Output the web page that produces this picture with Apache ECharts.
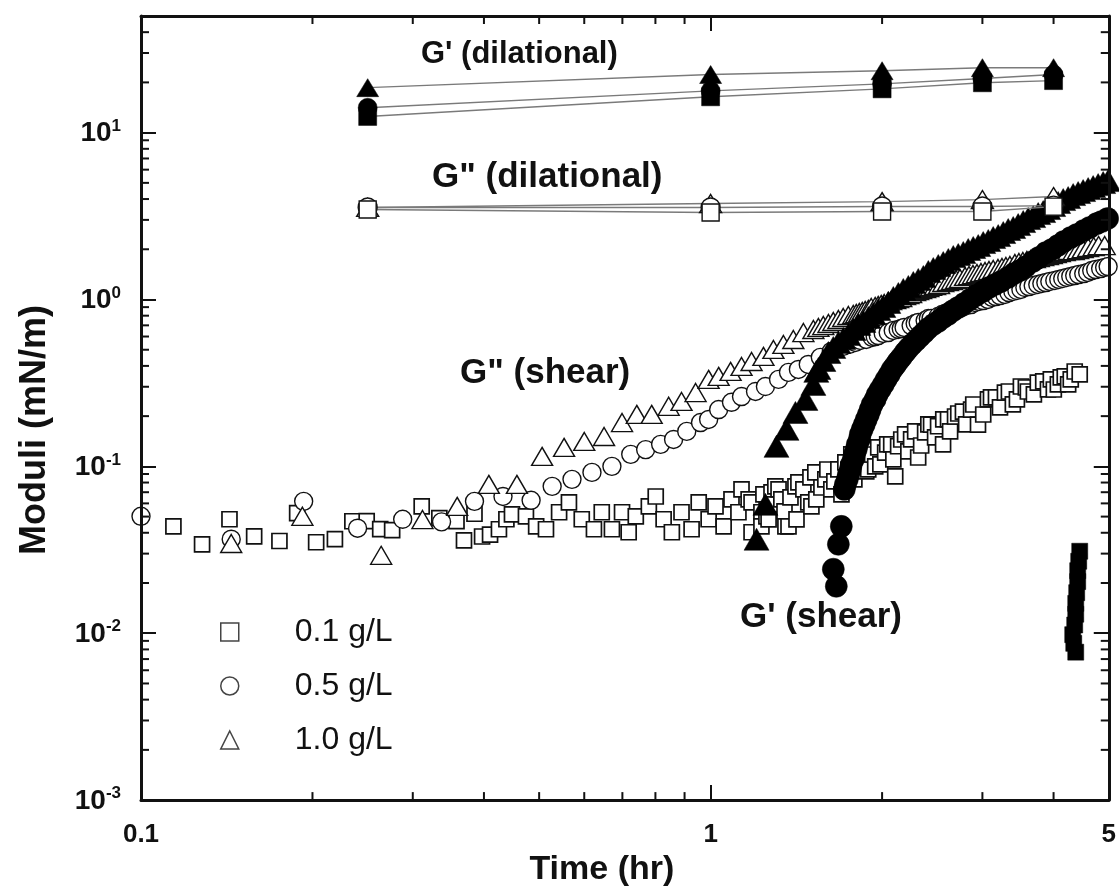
<!DOCTYPE html>
<html><head><meta charset="utf-8">
<script src="https://cdn.jsdelivr.net/npm/echarts@6/dist/echarts.min.js"></script>
<style>html,body{margin:0;padding:0;background:#fff}#c{width:1119px;height:892px}</style>
</head><body><div id="c"></div>
<script>
// ---------- tick labels / categories ----------
const xTickLabels = ['0.1', '1', '5'];
const yTickExponents = [-3, -2, -1, 0, 1];
const concentrations = ['0.1 g/L', '0.5 g/L', '1.0 g/L'];

// ---------- dilational data (time in hr) ----------
const dilTimes = [0.25, 1, 2, 3, 4];
const gpDilSquare   = [12.5, 16.4, 18.3, 19.9, 20.5];
const gpDilCircle   = [14.1, 17.8, 19.6, 21.1, 22.3];
const gpDilTriangle = [18.6, 22.3, 23.5, 24.5, 24.5];
const gppDilSquare   = [3.46, 3.32, 3.37, 3.37, 3.60];
const gppDilCircle   = [3.56, 3.56, 3.61, 3.61, 3.65];
const gppDilTriangle = [3.56, 3.76, 3.86, 3.97, 4.14];

// ---------- shear data [time (hr), modulus (mN/m)] ----------
const gppShearSquare = [
 [0.114,0.0437],[0.128,0.0341],[0.143,0.0482],[0.158,0.0381],[0.175,0.0357],[0.188,0.0525],[0.203,0.0351],[0.219,0.0366],
 [0.235,0.0469],[0.249,0.047],[0.263,0.0421],[0.276,0.0415],[0.311,0.0576],[0.334,0.049],[0.358,0.047],[0.369,0.036],
 [0.385,0.052],[0.397,0.038],[0.41,0.039],[0.425,0.042],[0.438,0.0482],[0.448,0.0516],[0.474,0.0502],[0.494,0.0437],
 [0.514,0.042],[0.542,0.0531],[0.564,0.0608],[0.594,0.0482],[0.624,0.042],[0.644,0.0531],[0.671,0.042],[0.699,0.0531],
 [0.718,0.0403],[0.739,0.0502],[0.779,0.0576],[0.801,0.066],[0.827,0.0482],[0.855,0.0403],[0.889,0.0531],[0.926,0.042],
 [0.953,0.0608],[0.992,0.0482],[1.02,0.0576],[1.054,0.0437],[1.088,0.0634],[1.119,0.0531],[1.133,0.0728],[1.166,0.0634],
 [1.18,0.0608],[1.18,0.0403],[1.228,0.0531],[1.228,0.0437],[1.253,0.0502],[1.279,0.0698],[1.299,0.0759],[1.331,0.0634],
 [1.353,0.0437],[1.37,0.0437],[1.409,0.0759],[1.426,0.0801],[1.484,0.0608],[1.503,0.0576],[1.527,0.092],[1.59,0.0836],
 [1.629,0.0728],[1.676,0.0959],[1.724,0.1057],[1.766,0.118],[1.816,0.110],[1.86,0.1265],[1.891,0.0959],[1.945,0.1],
 [1.969,0.130],[2.025,0.121],[2.075,0.1355],[2.109,0.0871],[2.134,0.132],[2.195,0.1556],[2.249,0.145],[2.314,0.113],
 [2.38,0.16],[2.438,0.178],[2.508,0.174],[2.559,0.1355],[2.611,0.191],[2.686,0.199],[2.773,0.213],[2.866,0.219],
 [2.947,0.178],[3.068,0.252],[3.169,0.259],[3.286,0.277],[3.393,0.235],[3.505,0.301],[3.605,0.281],[3.753,0.318],
 [3.91,0.289],[3.956,0.332],[4.07,0.31],[4.185,0.346],[4.288,0.332],[4.446,0.356],
 [1.238,0.0679],[1.264,0.0481],[1.289,0.0592],[1.316,0.0727],[1.348,0.0537],[1.381,0.0652],[1.415,0.0481],[1.455,0.0727],
 [1.497,0.0858],[1.533,0.0634],[1.565,0.0747],[1.603,0.0958],[1.649,0.0812],[1.697,0.0679],[1.745,0.0958],[1.788,0.0835],
 [1.839,0.1131],[1.876,0.0932],[1.921,0.1178],[1.986,0.1027],[2.042,0.1353],[2.093,0.110],[2.161,0.1449],[2.224,0.1229],
 [2.286,0.1619],[2.342,0.1334],[2.411,0.1783],[2.478,0.149],[2.561,0.191],[2.633,0.1619],[2.721,0.2074],[2.809,0.1783],
 [2.891,0.2349],[3.01,0.2046],[3.106,0.2588],[3.221,0.2254],[3.339,0.281],[3.449,0.2517],[3.576,0.297],[3.694,0.2697],
 [3.836,0.3227],[4.004,0.2889],[4.118,0.341],[4.243,0.3096],[4.357,0.3703]
];
const gppShearCircle = [
 [0.1,0.0502],[0.144,0.0366],[0.193,0.0617],[0.24,0.0426],[0.288,0.0482],[0.337,0.0465],[0.385,0.0617],[0.432,0.066],
 [0.484,0.0626],[0.527,0.0759],[0.571,0.0836],[0.619,0.092],[0.671,0.1],[0.724,0.118],[0.769,0.126],[0.817,0.1355],
 [0.861,0.145],[0.908,0.162],[0.96,0.183],[0.992,0.191],[1.033,0.219],[1.088,0.242],[1.133,0.262],[1.199,0.281],
 [1.248,0.301],[1.316,0.332],[1.37,0.366],[1.426,0.381],[1.484,0.408],[1.558,0.45],[1.629,0.489],[1.709,0.524],
 [1.752,0.538],[1.795,0.553],[1.831,0.568],[1.876,0.576],[1.921,0.592],[1.969,0.608],[2.009,0.626],[2.05,0.634],
 [2.092,0.652],[2.134,0.661],[2.186,0.68],[2.249,0.698],[2.314,0.728],[2.38,0.748],[2.438,0.77],[2.508,0.791],
 [2.58,0.825],[2.665,0.859],[2.763,0.896],[2.865,0.933],[2.959,0.973],[3.068,1.0],[3.169,1.042],[3.286,1.072],
 [3.393,1.117],[3.505,1.148],[3.62,1.196],[3.753,1.23],[3.877,1.264],[4.02,1.30],[4.151,1.336],[4.288,1.374],
 [4.428,1.411],[4.592,1.452],[4.742,1.512],[4.918,1.556],
 [1.945,0.600],[2.161,0.670],[2.286,0.718],[2.411,0.769],[2.549,0.813],[2.622,0.848],[2.721,0.883],[2.819,0.921],
 [2.911,0.960],[3.01,0.986],[3.119,1.028],[3.221,1.056],[3.339,1.101],[3.449,1.132],[3.562,1.180],[3.684,1.213],
 [3.815,1.247],[3.94,1.282],[4.085,1.318],[4.219,1.355],[4.357,1.392],[4.519,1.431],[4.667,1.491],[4.838,1.533],[4.987,1.576]
];
const gppShearTriangle = [
 [0.144,0.0345],[0.192,0.0502],[0.264,0.0293],[0.312,0.048],[0.359,0.0576],[0.408,0.078],[0.457,0.078],[0.506,0.1148],
 [0.553,0.13],[0.60,0.141],[0.65,0.151],[0.699,0.183],[0.742,0.205],[0.788,0.205],[0.844,0.229],[0.889,0.245],
 [0.941,0.277],[0.992,0.332],[1.033,0.346],[1.084,0.371],[1.133,0.397],[1.18,0.425],[1.238,0.456],[1.289,0.502],
 [1.342,0.538],[1.397,0.576],[1.455,0.634],[1.515,0.661],[1.577,0.698],[1.642,0.738],[1.709,0.78],[1.78,0.813],
 [1.824,0.836],[1.868,0.859],[1.914,0.896],[1.969,0.92],[2.017,0.946],[2.075,0.986],[2.134,1.014],[2.195,1.057],
 [2.249,1.086],[2.314,1.132],[2.38,1.164],[2.438,1.197],[2.518,1.23],[2.611,1.282],[2.697,1.318],[2.797,1.374],
 [2.888,1.411],[2.983,1.452],[3.081,1.492],[3.195,1.535],[3.299,1.576],[3.421,1.644],[3.533,1.689],[3.649,1.738],
 [3.769,1.784],[3.91,1.834],[4.036,1.886],[4.185,1.937],[4.34,1.965],[4.5,2.018],[4.704,2.077],[4.918,2.105],
 [1.546,0.680],[1.61,0.718],[1.676,0.759],[1.745,0.802],[1.802,0.824],[1.846,0.848],[1.892,0.871],[1.945,0.908],
 [1.993,0.933],[2.051,0.973],[2.109,1.0],[2.161,1.028],[2.224,1.071],[2.286,1.117],[2.342,1.148],[2.411,1.180],
 [2.478,1.213],[2.561,1.264],[2.653,1.300],[2.74,1.336],[2.842,1.392],[2.935,1.431],[3.032,1.471],[3.134,1.512],
 [3.247,1.554],[3.353,1.598],[3.477,1.665],[3.591,1.712],[3.709,1.760],[3.836,1.809],[3.972,1.860],[4.102,1.912],
 [4.253,1.966],[4.418,1.993],[4.6,2.049],[4.799,2.105]
];
const gpShearSquare = [
 [4.446,0.031],[4.428,0.027],[4.41,0.0237],[4.41,0.0204],[4.392,0.0175],[4.375,0.0151],[4.375,0.0130],
 [4.357,0.0112],[4.322,0.0098],[4.34,0.0087],[4.375,0.0077]
];
const gpShearCircle = [
 [1.696,0.0437],[1.676,0.0341],[1.642,0.0242],[1.662,0.0191],
 [1.717,0.0728],[1.738,0.0836],[1.759,0.0959],[1.78,0.110],[1.802,0.1265],[1.824,0.145],[1.846,0.1667],[1.876,0.191],
 [1.906,0.219],[1.945,0.252],[1.985,0.289],[2.033,0.332],[2.083,0.381],[2.134,0.426],[2.195,0.482],[2.258,0.538],
 [2.332,0.60],[2.409,0.67],[2.508,0.738],[2.611,0.813],[2.719,0.895],[2.853,1.0],[3.007,1.117],[3.156,1.23],
 [3.326,1.355],[3.491,1.493],[3.679,1.691],[3.877,1.91],[4.07,2.105],[4.288,2.35],[4.519,2.59],[4.762,2.85],[4.977,3.055],
 [1.724,0.0779],[1.745,0.0894],[1.766,0.1027],[1.788,0.1178],[1.809,0.1353],[1.831,0.1553],[1.861,0.1783],[1.892,0.2046],
 [1.921,0.2349],[1.961,0.2697],[2.01,0.3096],[2.059,0.3553],[2.109,0.4023],[2.161,0.4492],[2.224,0.5087],[2.295,0.568],
 [2.371,0.634],[2.46,0.708],[2.561,0.780],[2.667,0.859],[2.786,0.946],[2.924,1.056],[3.081,1.180],[3.234,1.282],
 [3.408,1.431],[3.576,1.576],[3.769,1.785],[3.972,1.993],[4.168,2.225],[4.393,2.45],[4.629,2.70],[4.858,2.931]
];
const gpShearTriangle = [
 [1.204,0.0366],[1.248,0.0592],[1.305,0.1318],[1.359,0.1667],[1.409,0.2104],[1.467,0.252],[1.515,0.31],[1.533,0.371],
 [1.546,0.386],[1.5775,0.431],[1.61,0.481],[1.642,0.516],[1.676,0.553],[1.71,0.584],[1.745,0.617],[1.781,0.661],
 [1.817,0.708],[1.854,0.738],[1.892,0.780],[1.93,0.824],[1.97,0.871],[2.01,0.908],[2.051,0.960],[2.093,1.028],
 [2.136,1.086],[2.179,1.148],[2.224,1.197],[2.269,1.264],[2.315,1.318],[2.363,1.373],[2.411,1.471],[2.46,1.533],
 [2.51,1.598],[2.561,1.665],[2.614,1.736],[2.667,1.809],[2.721,1.860],[2.777,1.912],[2.833,1.993],[2.891,2.049],
 [2.95,2.105],[3.01,2.194],[3.072,2.256],[3.134,2.351],[3.198,2.416],[3.264,2.519],[3.33,2.626],[3.398,2.700],
 [3.467,2.812],[3.538,2.931],[3.61,3.055],[3.684,3.140],[3.759,3.273],[3.836,3.365],[3.914,3.507],[3.994,3.656],
 [4.075,3.811],[4.159,3.971],[4.243,4.082],[4.33,4.254],[4.418,4.373],[4.508,4.496],[4.6,4.621],[4.694,4.750],
 [4.79,4.883],[4.888,5.020],[4.987,5.160]
];

// ---------- layout / style ----------
const FONT = '"Liberation Sans", Arial, Helvetica, sans-serif';
const X_MIN = 0.1, X_MAX = 5, Y_MIN = 0.001, Y_MAX = 50;
const INK = '#111';

function minorValues(lo, hi) {
  const out = [];
  for (let e = Math.floor(Math.log10(lo)); e <= Math.ceil(Math.log10(hi)); e++) {
    for (let m = 2; m <= 9; m++) {
      const v = m * Math.pow(10, e);
      if (v > lo * 1.0001 && v < hi * 0.9999) out.push(v);
    }
  }
  return out;
}
const byTime = d => d.slice().sort((a, b) => a[0] - b[0]);
function hollow(name, symbol, size, data, z, bw) {
  return { type: 'scatter', name, symbol, symbolSize: size, data: byTime(data), z,
    itemStyle: { color: '#fff', borderColor: INK, borderWidth: bw || 1.4, opacity: 1 } };
}
function filled(name, symbol, size, data, z) {
  return { type: 'scatter', name, symbol, symbolSize: size, data: byTime(data), z,
    itemStyle: { color: '#000', borderColor: '#000', borderWidth: 0.5, opacity: 1 } };
}
function dil(name, symbol, size, ys, isFilled, z) {
  return { type: 'line', name, symbol, symbolSize: size, showSymbol: true, z,
    data: dilTimes.map((t, i) => [t, ys[i]]),
    lineStyle: { color: '#7a7a7a', width: 1.4 },
    itemStyle: isFilled ? { color: '#000', borderColor: '#000', borderWidth: 0.5, opacity: 1 }
                        : { color: '#fff', borderColor: INK, borderWidth: 1.4, opacity: 1 } };
}
const MINOR_LEN = 8, MAJOR_LEN = 15;
function tickLine(x1, y1, x2, y2) {
  return { type: 'line', shape: { x1, y1, x2, y2 }, style: { stroke: INK, lineWidth: 2 } };
}

const chart = echarts.init(document.getElementById('c'), null, { renderer: 'canvas' });
const axisCommon = {
  type: 'log', logBase: 10, z: 10,
  axisLine: { show: true, lineStyle: { color: INK, width: 3 } },
  axisTick: { show: true, inside: true, length: MAJOR_LEN, lineStyle: { color: INK, width: 2 } },
  splitLine: { show: false }, minorTick: { show: false }, minorSplitLine: { show: false }
};
chart.setOption({
  animation: false,
  backgroundColor: '#fff',
  grid: { left: 141, right: 7, top: 16, bottom: 90, containLabel: false },
  xAxis: [
    Object.assign({}, axisCommon, {
      position: 'bottom', min: X_MIN, max: X_MAX,
      name: 'Time (hr)', nameLocation: 'middle', nameGap: 52,
      nameTextStyle: { fontFamily: FONT, fontSize: 34, fontWeight: 'bold', color: INK, padding: [0, 46, 0, 0] },
      axisLabel: { show: true, margin: 22, showMinLabel: true, showMaxLabel: true,
        fontFamily: FONT, fontSize: 26, fontWeight: 'bold', color: INK,
        formatter: v => { let best = ''; let d = 1e9; xTickLabels.forEach(l => { const dd = Math.abs(Math.log10(+l) - Math.log10(v)); if (dd < d) { d = dd; best = l; } }); return d < 1e-3 ? best : ''; } }
    }),
    Object.assign({}, axisCommon, { position: 'top', min: X_MIN, max: X_MAX, axisLabel: { show: false } })
  ],
  yAxis: [
    Object.assign({}, axisCommon, {
      position: 'left', min: Y_MIN, max: Y_MAX,
      name: 'Moduli (mN/m)', nameLocation: 'middle', nameGap: 88,
      nameTextStyle: { fontFamily: FONT, fontSize: 36, fontWeight: 'bold', color: INK, padding: [0, 44, 0, 0] },
      axisLabel: { show: true, margin: 20, showMinLabel: true, showMaxLabel: true,
        formatter: v => { const e = Math.log10(v); const r = Math.round(e); if (Math.abs(e - r) > 1e-6 || yTickExponents.indexOf(r) < 0) return ''; return '{b|10}{s|' + r + '}'; },
        rich: {
          b: { fontFamily: FONT, fontSize: 28, fontWeight: 'bold', color: INK, lineHeight: 30, verticalAlign: 'bottom' },
          s: { fontFamily: FONT, fontSize: 17, fontWeight: 'bold', color: INK, lineHeight: 30, verticalAlign: 'top', padding: [0, 0, 8, 0] }
        } }
    }),
    Object.assign({}, axisCommon, { position: 'right', min: Y_MIN, max: Y_MAX, axisLabel: { show: false } })
  ],
  legend: {
    data: concentrations, orient: 'vertical', left: 215, top: 610,
    itemWidth: 18, itemHeight: 18, itemGap: 20, selectedMode: false,
    itemStyle: { color: '#fff', borderColor: '#444', borderWidth: 1.5 },
    textStyle: { fontFamily: FONT, fontSize: 32, color: INK, lineHeight: 34, padding: [0, 0, 0, 51] }
  },
  graphic: [
    { type: 'text', left: 421, top: 39, z: 50, style: { text: "G' (dilational)", font: 'bold 31px ' + FONT, fill: INK } },
    { type: 'text', left: 432, top: 160, z: 50, style: { text: 'G" (dilational)', font: 'bold 35px ' + FONT, fill: INK } },
    { type: 'text', left: 460, top: 356, z: 50, style: { text: 'G" (shear)', font: 'bold 35px ' + FONT, fill: INK } },
    { type: 'text', left: 740, top: 600, z: 50, style: { text: "G' (shear)", font: 'bold 35px ' + FONT, fill: INK } }
  ],
  series: [
    hollow(concentrations[0], 'rect', 15, gppShearSquare, 2, 1.7),
    hollow(concentrations[1], 'circle', 18, gppShearCircle, 2),
    hollow(concentrations[2], 'triangle', [21, 18], gppShearTriangle, 2),
    filled("G' shear 0.1", 'rect', 16, gpShearSquare, 3),
    filled("G' shear 0.5", 'circle', 22, gpShearCircle, 3),
    filled("G' shear 1.0", 'triangle', [25, 22], gpShearTriangle, 3),
    dil("G' dil 1.0", 'triangle', [22, 18], gpDilTriangle, true, 4),
    dil("G' dil 0.1", 'rect', 18, gpDilSquare, true, 4),
    dil("G' dil 0.5", 'circle', 19, gpDilCircle, true, 4),
    dil('G" dil 1.0', 'triangle', [22, 18], gppDilTriangle, false, 4),
    dil('G" dil 0.5', 'circle', 19, gppDilCircle, false, 4),
    dil('G" dil 0.1', 'rect', 17, gppDilSquare, false, 4),
    { type: 'custom', name: 'x minor ticks', z: 11, silent: true, clip: false,
      data: minorValues(X_MIN, X_MAX).map(v => [v, 1]),
      renderItem: (p, api) => {
        const v = api.value(0); const b = api.coord([v, Y_MIN]); const t = api.coord([v, Y_MAX]);
        return { type: 'group', children: [tickLine(b[0], b[1], b[0], b[1] - MINOR_LEN), tickLine(t[0], t[1], t[0], t[1] + MINOR_LEN)] };
      } },
    { type: 'custom', name: 'y minor ticks', z: 11, silent: true, clip: false,
      data: minorValues(Y_MIN, Y_MAX).map(v => [1, v]),
      renderItem: (p, api) => {
        const v = api.value(1); const l = api.coord([X_MIN, v]); const r = api.coord([X_MAX, v]);
        return { type: 'group', children: [tickLine(l[0], l[1], l[0] + MINOR_LEN, l[1]), tickLine(r[0], r[1], r[0] - MINOR_LEN, r[1])] };
      } }
  ]
});
</script></body></html>
